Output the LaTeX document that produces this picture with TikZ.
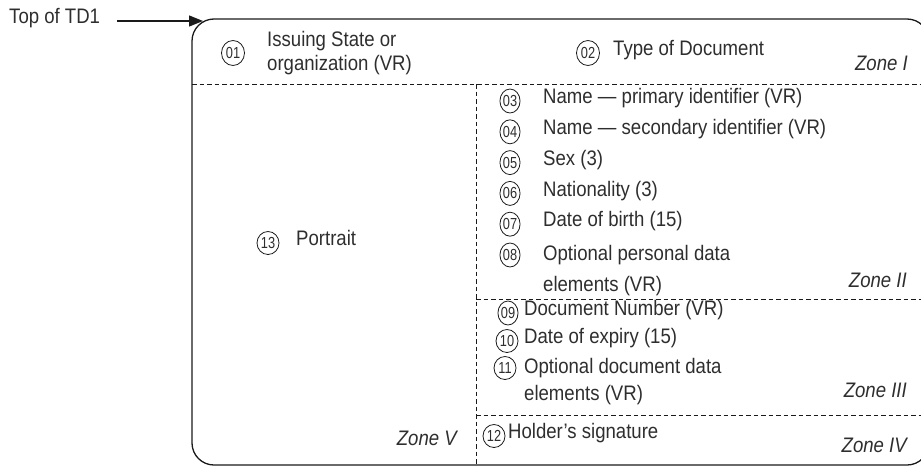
\documentclass[tikz,border=0pt]{standalone}
\usepackage{fontspec}
\setmainfont{Liberation Sans}[FakeStretch=0.885]
\newfontfamily\numfont{Liberation Sans}[FakeStretch=0.8]
\usetikzlibrary{arrows.meta,shapes.geometric}
\definecolor{textc}{HTML}{2E2E2E}
\definecolor{linec}{HTML}{1A1A1A}
\begin{document}
\begin{tikzpicture}[x=1pt,y=-1pt,
  every node/.style={text=textc},
  lbl/.style={anchor=west,inner sep=0pt,font=\fontsize{21}{25}\selectfont,text height=0.75em,text depth=0.2em},
  lbltwo/.style={anchor=west,inner sep=0pt,align=left},
  zonelbl/.style={anchor=east,inner sep=0pt,font=\fontsize{21}{25}\selectfont\itshape,text height=0.75em,text depth=0.2em},
  numbase/.style={draw=linec,ellipse,line width=0.8pt,inner sep=0pt,font=\numfont\fontsize{16}{16}\selectfont},
  num/.style={numbase,minimum width=20pt,minimum height=24pt},
  numbig/.style={numbase,minimum width=23pt,minimum height=25pt},
  numround/.style={numbase,minimum width=22pt,minimum height=23pt},
  card/.style={draw=linec,line width=1.3pt,rounded corners=22pt},
  zoneline/.style={draw=linec,line width=0.8pt,dash pattern=on 4.5pt off 3pt},
  arr/.style={draw=linec,line width=1.3pt,-{Triangle[length=14pt,width=11pt]}}
]
\useasboundingbox (0,0) rectangle (921,466);
\begin{scope}
  \clip (0,0) rectangle (921,466);
  \path[card] (192,19) rectangle (929,465);
  \draw[zoneline] (192,84) -- (929,84);
  \draw[zoneline] (476,84) -- (476,470);
  \draw[zoneline] (476,299) -- (929,299);
  \draw[zoneline] (476,415) -- (929,415);
\end{scope}

% top label and arrow
\node[lbl] (top) at (9,21) {Top of TD1};
\coordinate (tip) at (203,21);
\draw[arr,shorten <=17pt] (top.east) -- (tip);

% Zone I
\node[numbig] (n01) at (233,53) {01};
\node[lbltwo,font=\fontsize{21}{24}\selectfont] (t01) at (267,53) {Issuing State or\\organization (VR)};
\node[numbig] (n02) at (588,53) {02};
\node[lbl] (t02) at (613,53) {Type of Document};
\node[zonelbl] (z1) at (908,68) {Zone I};

% Zone II
\node[num] (n03) at (510,101) {03};
\node[lbl] (t03) at (543,101) {Name — primary identifier (VR)};
\node[num] (n04) at (510,131.8) {04};
\node[lbl] (t04) at (543,131.8) {Name — secondary identifier (VR)};
\node[num] (n05) at (510,162.6) {05};
\node[lbl] (t05) at (543,162.6) {Sex (3)};
\node[num] (n06) at (510,193.4) {06};
\node[lbl] (t06) at (543,193.4) {Nationality (3)};
\node[num] (n07) at (510,224.2) {07};
\node[lbl] (t07) at (543,224.2) {Date of birth (15)};
\node[num] (n08) at (510,255) {08};
\node[lbltwo,font=\fontsize{21}{30.8}\selectfont] (t08) at (543,270.4) {Optional personal data\\elements (VR)};
\node[zonelbl] (z2) at (907,285) {Zone II};

% Zone III
\node[num] (n09) at (508,313) {09};
\node[lbl] (t09) at (524,313) {Document Number (VR)};
\node[numround] (n10) at (507,341) {10};
\node[lbl] (t10) at (524,341) {Date of expiry (15)};
\node[numround] (n11) at (505,368) {11};
\node[lbltwo,font=\fontsize{21}{27}\selectfont] (t11) at (524,381.5) {Optional document data\\elements (VR)};
\node[zonelbl] (z3) at (907,395) {Zone III};

% Zone IV
\node[numround] (n12) at (494,436) {12};
\node[lbl] (t12) at (508,436) {Holder’s signature};
\node[zonelbl] (z4) at (907,450) {Zone IV};

% Zone V
\node[numround] (n13) at (268,243) {13};
\node[lbl] (t13) at (296,243) {Portrait};
\node[zonelbl] (z5) at (457,443) {Zone V};
\end{tikzpicture}
\end{document}
